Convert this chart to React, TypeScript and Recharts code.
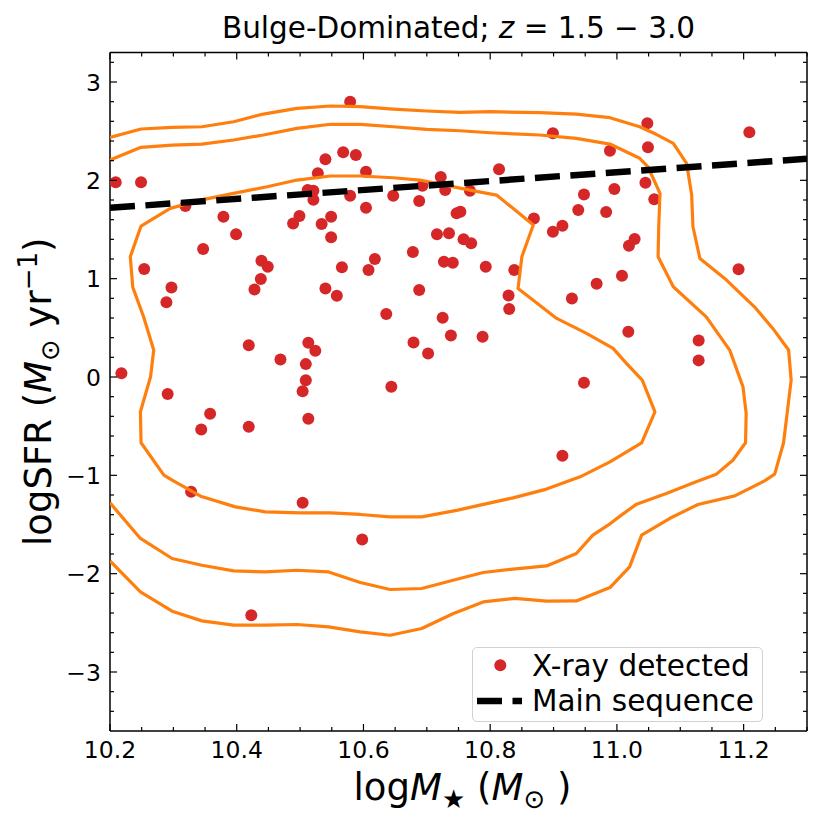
import { ScatterChart, Scatter, XAxis, YAxis, Legend } from "recharts";

const FONT = "'DejaVu Sans', sans-serif";
const ORANGE = "#ff7f0e";
const RED = "#d62728";

const xMajorTicks = [10.2, 10.4, 10.6, 10.8, 11.0, 11.2];
const xMinorTicks = [
  10.25, 10.3, 10.35, 10.45, 10.5, 10.55, 10.65, 10.7, 10.75, 10.85, 10.9,
  10.95, 11.05, 11.1, 11.15, 11.25, 11.3,
];
const yMajorTicks = [-3, -2, -1, 0, 1, 2, 3];
const yMinorTicks = [
  -3.4, -3.2, -2.8, -2.6, -2.4, -2.2, -1.8, -1.6, -1.4, -1.2, -0.8, -0.6,
  -0.4, -0.2, 0.2, 0.4, 0.6, 0.8, 1.2, 1.4, 1.6, 1.8, 2.2, 2.4, 2.6, 2.8, 3.2,
];

// X-ray detected sources: [logM*, logSFR]
const xrayDetected: [number, number][] = [
  [10.209, 1.98], [10.249, 1.98], [10.579, 2.8], [10.568, 2.285], [10.588, 2.257],
  [10.54, 2.214], [10.604, 2.087], [10.528, 2.071], [10.722, 2.034], [10.693, 1.945],
  [10.729, 1.901], [10.512, 1.901], [10.521, 1.894], [10.579, 1.843], [10.647, 1.843],
  [10.521, 1.803], [10.688, 1.789], [10.319, 1.738], [10.604, 1.721], [10.747, 1.664],
  [10.379, 1.63], [10.499, 1.637], [10.489, 1.562], [10.549, 1.63], [10.534, 1.555],
  [10.549, 1.42], [10.399, 1.451], [10.716, 1.451], [10.735, 1.461], [10.758, 1.4],
  [10.77, 1.359], [10.347, 1.301], [10.678, 1.271], [10.439, 1.182], [10.449, 1.121],
  [10.618, 1.199], [10.608, 1.087], [10.566, 1.115], [10.727, 1.172], [10.741, 1.162],
  [10.254, 1.098], [10.438, 0.996], [10.428, 0.891], [10.297, 0.911], [10.289, 0.759],
  [10.54, 0.901], [10.558, 0.826], [10.688, 0.884], [10.636, 0.64], [10.725, 0.602],
  [10.738, 0.423], [10.679, 0.352], [10.702, 0.24], [10.419, 0.324], [10.469, 0.179],
  [10.513, 0.348], [10.524, 0.267], [10.509, 0.131], [10.509, -0.032], [10.504, -0.144],
  [10.644, -0.1], [10.218, 0.037], [10.291, -0.174], [10.358, -0.374], [10.344, -0.533],
  [10.419, -0.507], [10.513, -0.425], [10.328, -1.168], [10.504, -1.28], [10.598, -1.652],
  [10.423, -2.422], [11.048, 2.58], [11.209, 2.488], [10.899, 2.478], [10.989, 2.301],
  [11.049, 2.336], [10.814, 2.112], [10.768, 1.894], [11.045, 1.975], [10.996, 1.911],
  [10.948, 1.857], [11.059, 1.807], [10.939, 1.698], [10.983, 1.677], [10.753, 1.68],
  [10.869, 1.613], [10.914, 1.538], [10.899, 1.477], [11.028, 1.403], [11.019, 1.335],
  [10.793, 1.121], [10.838, 1.087], [11.192, 1.095], [11.008, 1.029], [10.968, 0.948],
  [10.829, 0.83], [10.929, 0.799], [10.83, 0.691], [10.788, 0.409], [11.018, 0.46],
  [11.129, 0.372], [11.129, 0.169], [10.948, -0.059], [10.914, -0.802],
];

// density contours of the parent sample
const contourInner: [number, number][] = [
  [10.295, 1.715], [10.249, 1.535], [10.232, 1.223], [10.236, 0.911], [10.253, 0.612],
  [10.269, 0.274], [10.264, 0.002], [10.248, -0.354], [10.249, -0.669], [10.285, -0.998],
  [10.298, -1.049], [10.343, -1.212], [10.398, -1.321], [10.445, -1.371], [10.5, -1.382],
  [10.548, -1.382], [10.595, -1.398], [10.642, -1.422], [10.692, -1.422], [10.749, -1.354],
  [10.784, -1.303], [10.836, -1.229], [10.889, -1.14], [10.942, -1.015], [10.989, -0.863],
  [11.039, -0.669], [11.06, -0.354], [11.04, -0.032], [11.015, 0.138], [10.994, 0.291],
  [10.952, 0.443], [10.905, 0.596], [10.844, 0.901], [10.85, 1.223], [10.868, 1.545],
  [10.836, 1.715], [10.81, 1.85], [10.768, 1.901], [10.721, 1.962], [10.689, 2.003],
  [10.647, 2.026], [10.595, 2.044], [10.548, 2.044], [10.495, 2.003], [10.448, 1.935],
  [10.395, 1.868], [10.343, 1.799], [10.295, 1.715],
];

const contourMiddle: [number, number][] = [
  [10.2, 2.206], [10.249, 2.336], [10.298, 2.359], [10.345, 2.369], [10.395, 2.41],
  [10.442, 2.461], [10.495, 2.529], [10.548, 2.57], [10.595, 2.57], [10.647, 2.545],
  [10.7, 2.519], [10.752, 2.504], [10.8, 2.484], [10.878, 2.461], [10.936, 2.427],
  [10.989, 2.369], [11.036, 2.224], [11.049, 2.138], [11.068, 1.868], [11.066, 1.528],
  [11.065, 1.223], [11.089, 0.918], [11.141, 0.612], [11.178, 0.274], [11.199, -0.1],
  [11.204, -0.37], [11.203, -0.669], [11.183, -0.846], [11.157, -0.988], [11.125, -1.066],
  [11.078, -1.184], [11.031, -1.293], [11.007, -1.405], [10.986, -1.507], [10.962, -1.608],
  [10.936, -1.795], [10.889, -1.921], [10.836, -1.954], [10.789, -1.988], [10.752, -2.049],
  [10.692, -2.151], [10.642, -2.161], [10.595, -2.09], [10.545, -1.982], [10.495, -1.965],
  [10.445, -1.982], [10.395, -1.972], [10.345, -1.914], [10.298, -1.846], [10.248, -1.642],
  [10.2, -1.28],
];

const contourOuter: [number, number][] = [
  [10.2, 2.437], [10.249, 2.522], [10.298, 2.539], [10.345, 2.545], [10.395, 2.596],
  [10.442, 2.674], [10.495, 2.732], [10.548, 2.756], [10.595, 2.749], [10.647, 2.725],
  [10.7, 2.705], [10.752, 2.692], [10.8, 2.698], [10.878, 2.688], [10.936, 2.674],
  [10.989, 2.637], [11.036, 2.545], [11.062, 2.468], [11.089, 2.376], [11.11, 2.173],
  [11.118, 1.85], [11.12, 1.528], [11.131, 1.206], [11.173, 0.986], [11.217, 0.714],
  [11.246, 0.494], [11.271, 0.274], [11.275, -0.032], [11.263, -0.669], [11.249, -0.988],
  [11.233, -1.056], [11.186, -1.209], [11.128, -1.296], [11.083, -1.439], [11.039, -1.608],
  [11.02, -1.931], [10.989, -2.141], [10.936, -2.277], [10.889, -2.28], [10.839, -2.252],
  [10.789, -2.287], [10.742, -2.405], [10.692, -2.558], [10.642, -2.626], [10.595, -2.592],
  [10.545, -2.541], [10.495, -2.517], [10.445, -2.524], [10.395, -2.524], [10.345, -2.48],
  [10.298, -2.382], [10.248, -2.185], [10.2, -1.87],
];

const mainSequence: [number, number][] = [
  [10.2, 1.72],
  [11.3, 2.22],
];

const toPoints = (arr: [number, number][]) => arr.map(([x, y]) => ({ x, y }));

const fmt = (v: number, digits: number) =>
  v < 0 ? `\u2212${Math.abs(v).toFixed(digits)}` : v.toFixed(digits);

const isMajor = (v: number, majors: number[]) => majors.some((m) => Math.abs(m - v) < 1e-6);

// inward ticks drawn by hand, labels only on bottom/left majors
function makeTick(side: "bottom" | "top" | "left" | "right", majors: number[]) {
  return (props: any) => {
    const { x, y, payload } = props;
    const v = payload.value;
    const major = isMajor(v, majors);
    const len = major ? 7 : 4;
    let x2 = x;
    let y2 = y;
    if (side === "bottom") y2 = y - len;
    if (side === "top") y2 = y + len;
    if (side === "left") x2 = x + len;
    if (side === "right") x2 = x - len;
    return (
      <g>
        <line x1={x} y1={y} x2={x2} y2={y2} stroke="#000" strokeWidth={1.2} />
        {major && side === "bottom" && (
          <text x={x} y={y + 27} textAnchor="middle" fontSize={23.5} fontFamily={FONT} fill="#000">
            {fmt(v, 1)}
          </text>
        )}
        {major && side === "left" && (
          <text x={x - 9} y={y + 8.5} textAnchor="end" fontSize={23.5} fontFamily={FONT} fill="#000">
            {fmt(v, 0)}
          </text>
        )}
      </g>
    );
  };
}

const ChartTitle = (props: any) => {
  const vb = props.viewBox || { x: 110, y: 51.5, width: 697, height: 1 };
  return (
    <text x={vb.x + vb.width / 2} y={vb.y - 14} textAnchor="middle" fontSize={29.5} fontFamily={FONT} fill="#000">
      Bulge-Dominated;{" "}
      <tspan fontStyle="italic">z</tspan>
      <tspan> = 1.5 − 3.0</tspan>
    </text>
  );
};

const XTitle = (props: any) => {
  const vb = props.viewBox || { x: 110, y: 731, width: 697, height: 1 };
  return (
    <text x={vb.x + vb.width / 2 + 4} y={vb.y + 69} textAnchor="middle" fontSize={37} fontFamily={FONT} fill="#000">
      log<tspan fontStyle="italic">M</tspan>
      <tspan fontSize={26} dy={8}>★</tspan>
      <tspan dy={-8}> (</tspan>
      <tspan fontStyle="italic">M</tspan>
      <tspan fontSize={26} dy={8}>⊙</tspan>
      <tspan dy={-8}> )</tspan>
    </text>
  );
};

const YTitle = (props: any) => {
  const vb = props.viewBox || { x: 109, y: 52.5, width: 1, height: 678.5 };
  const cx = 51;
  const cy = vb.y + vb.height / 2;
  return (
    <text
      x={cx}
      y={cy}
      transform={`rotate(-90, ${cx}, ${cy})`}
      textAnchor="middle"
      fontSize={37}
      fontFamily={FONT}
      fill="#000"
    >
      logSFR (<tspan fontStyle="italic">M</tspan>
      <tspan fontSize={26} dy={8}>⊙</tspan>
      <tspan dy={-8}> yr</tspan>
      <tspan fontSize={26} dy={-14}>−1</tspan>
      <tspan dy={14}>)</tspan>
    </text>
  );
};

function LegendBox() {
  return (
    <div
      style={{
        position: "relative",
        width: 291,
        height: 75,
        boxSizing: "border-box",
        border: "1.3px solid #d2d2d2",
        borderRadius: 5,
        background: "rgba(255,255,255,0.8)",
      }}
    >
      <svg width={291} height={75} style={{ position: "absolute", left: -1, top: -1 }}>
        <circle cx={28.3} cy={18.3} r={6} fill={RED} />
        <text x={60} y={29.3} fontSize={29.5} fontFamily={FONT} fill="#000">
          X-ray detected
        </text>
        <line x1={5} x2={50} y1={54} y2={54} stroke="#000" strokeWidth={6.5} strokeDasharray="25 10.5" />
        <text x={60} y={64} fontSize={29.5} fontFamily={FONT} fill="#000">
          Main sequence
        </text>
      </svg>
    </div>
  );
}

const Dot = (p: any) => <circle cx={p.cx} cy={p.cy} r={6} fill={RED} />;
const NoShape = () => <g />;

export default function App() {
  const xTicks = [...xMajorTicks, ...xMinorTicks];
  const yTicks = [...yMajorTicks, ...yMinorTicks];
  const axisLine = { stroke: "#000", strokeWidth: 1.5 };
  const xDomain: [number, number] = [10.2, 11.3];
  const yDomain: [number, number] = [-3.6, 3.3];

  return (
    <div style={{ position: "absolute", left: 0, top: 0, width: 822, height: 825, background: "#fff" }}>
      <ScatterChart width={822} height={825} margin={{ top: 51.5, right: 14, bottom: 93, left: 109 }}>
        <XAxis
          dataKey="x"
          type="number"
          domain={xDomain}
          allowDataOverflow
          ticks={xTicks}
          interval={0}
          tickSize={0}
          tickMargin={0}
          tickLine={false}
          tick={makeTick("bottom", xMajorTicks)}
          axisLine={axisLine}
          height={1}
          label={XTitle}
        />
        <XAxis
          xAxisId="top"
          orientation="top"
          dataKey="x"
          type="number"
          domain={xDomain}
          allowDataOverflow
          ticks={xTicks}
          interval={0}
          tickSize={0}
          tickMargin={0}
          tickLine={false}
          tick={makeTick("top", xMajorTicks)}
          axisLine={axisLine}
          height={1}
          label={ChartTitle}
        />
        <YAxis
          dataKey="y"
          type="number"
          domain={yDomain}
          allowDataOverflow
          ticks={yTicks}
          interval={0}
          tickSize={0}
          tickMargin={0}
          tickLine={false}
          tick={makeTick("left", yMajorTicks)}
          axisLine={axisLine}
          width={1}
          label={YTitle}
        />
        <YAxis
          yAxisId="right"
          orientation="right"
          dataKey="y"
          type="number"
          domain={yDomain}
          allowDataOverflow
          ticks={yTicks}
          interval={0}
          tickSize={0}
          tickMargin={0}
          tickLine={false}
          tick={makeTick("right", yMajorTicks)}
          axisLine={axisLine}
          width={1}
        />
        <Scatter name="X-ray detected" data={toPoints(xrayDetected)} fill={RED} shape={Dot} isAnimationActive={false} />
        {[contourOuter, contourMiddle, contourInner].map((c, i) => (
          <Scatter
            key={i}
            data={toPoints(c)}
            fill={ORANGE}
            line={{ stroke: ORANGE, strokeWidth: 3.2, strokeLinejoin: "round" }}
            lineType="joint"
            shape={NoShape}
            legendType="none"
            isAnimationActive={false}
          />
        ))}
        <Scatter
          name="Main sequence"
          data={toPoints(mainSequence)}
          fill="#000"
          line={{ stroke: "#000", strokeWidth: 6.5, strokeDasharray: "25 10.5" }}
          lineType="joint"
          shape={NoShape}
          isAnimationActive={false}
        />
        <Legend
          layout="vertical"
          align="center"
          verticalAlign="middle"
          content={() => <LegendBox />}
          wrapperStyle={{ left: 471.7, top: 646.7, width: 291, height: 75 }}
        />
      </ScatterChart>
    </div>
  );
}
